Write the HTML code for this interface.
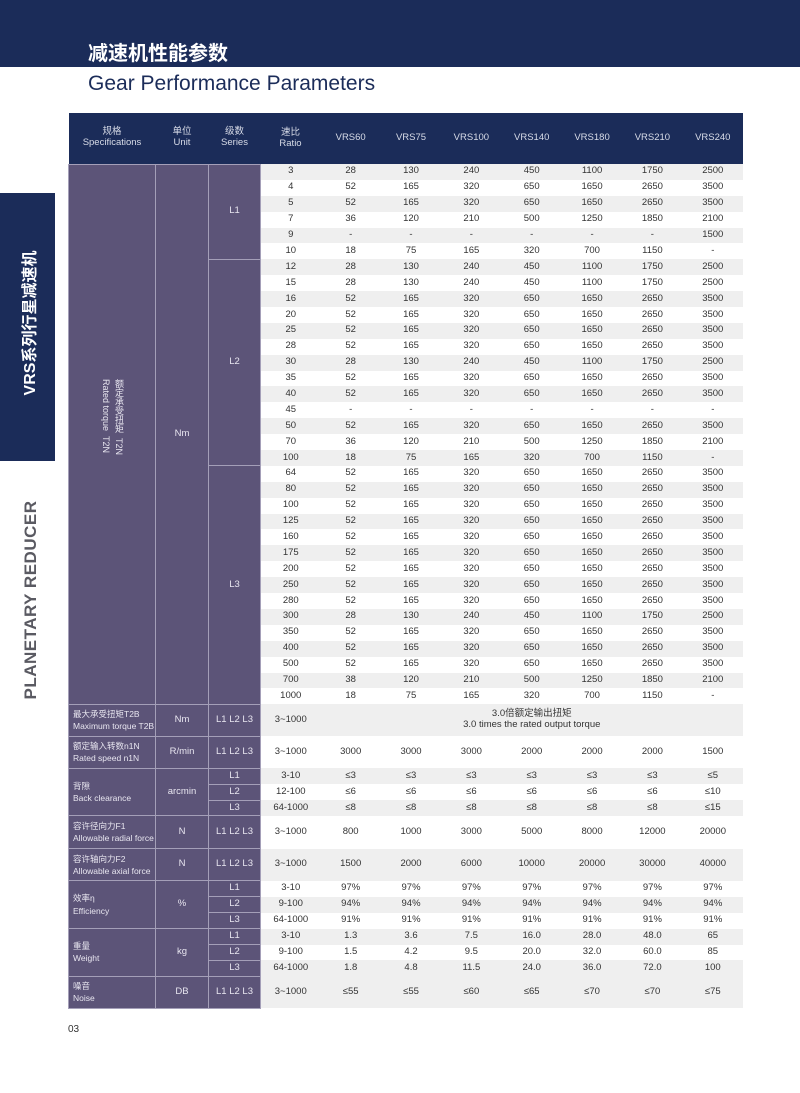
<!DOCTYPE html>
<html><head><meta charset="utf-8"><style>
*{margin:0;padding:0;box-sizing:border-box}
body{width:800px;height:1093px;background:#fff;position:relative;overflow:hidden;font-family:"Liberation Sans","Noto Sans CJK SC",sans-serif}
.top{position:absolute;left:0;top:0;width:800px;height:67px;background:#1b2c59}
.t1{position:absolute;left:88px;top:37px;color:#fff;font-size:20px;font-weight:bold}
.t2{position:absolute;left:88px;top:72px;color:#1b2c59;font-size:21px}
.side{position:absolute;left:0;top:193px;width:55px;height:268px;background:#1b2c59}
.sideT{position:absolute;left:28px;top:323px;transform:translate(-50%,-50%) rotate(-90deg);color:#fff;font-weight:bold;font-size:16px;white-space:nowrap}
.sideP{position:absolute;left:31px;top:600px;transform:translate(-50%,-50%) rotate(-90deg);color:#5a5a62;font-weight:bold;font-size:17px;white-space:nowrap;letter-spacing:0.5px}
.pg{position:absolute;left:68px;top:1024px;font-size:10px;color:#333}
table{position:absolute;left:68px;top:113px;border-collapse:collapse;table-layout:fixed;width:675px}
td,th{font-size:9.5px;text-align:center;color:#333;padding:0;font-weight:normal;line-height:1.15}
th{background:#1b2c59;color:#d8dce8;height:51px;font-size:9.5px}
.p{background:#5c5478;color:#e8e6f0;border:1px solid #a49fb8}
.r td{height:15.9px}
.g{background:#efefef}
.l{text-align:left;padding-left:4px;white-space:nowrap;font-size:8.5px;line-height:1.45}
.vt{writing-mode:vertical-rl;display:inline-block;font-size:9px;line-height:13px;text-align:left;margin-bottom:30px}
</style></head><body>
<div class="top"></div>
<div class="t1">减速机性能参数</div>
<div class="t2">Gear Performance Parameters</div>
<div class="side"></div>
<div class="sideT">VRS系列行星减速机</div>
<div class="sideP">PLANETARY REDUCER</div>
<div class="pg">03</div>
<table>
<colgroup><col style="width:87px"><col style="width:53px"><col style="width:52px"><col style="width:60px"><col><col><col><col><col><col><col></colgroup>
<tr><th>规格<br>Specifications</th><th>单位<br>Unit</th><th>级数<br>Series</th><th>速比<br>Ratio</th><th>VRS60</th><th>VRS75</th><th>VRS100</th><th>VRS140</th><th>VRS180</th><th>VRS210</th><th>VRS240</th></tr>
<tr class="r g"><td class="p" rowspan="34"><span class="vt">额定承受扭矩&nbsp;&nbsp;T2N<br>Rated torque&nbsp;&nbsp;T2N</span></td><td class="p" rowspan="34">Nm</td><td class="p" rowspan="6">L1</td><td>3</td><td>28</td><td>130</td><td>240</td><td>450</td><td>1100</td><td>1750</td><td>2500</td></tr>
<tr class="r"><td>4</td><td>52</td><td>165</td><td>320</td><td>650</td><td>1650</td><td>2650</td><td>3500</td></tr>
<tr class="r g"><td>5</td><td>52</td><td>165</td><td>320</td><td>650</td><td>1650</td><td>2650</td><td>3500</td></tr>
<tr class="r"><td>7</td><td>36</td><td>120</td><td>210</td><td>500</td><td>1250</td><td>1850</td><td>2100</td></tr>
<tr class="r g"><td>9</td><td>-</td><td>-</td><td>-</td><td>-</td><td>-</td><td>-</td><td>1500</td></tr>
<tr class="r"><td>10</td><td>18</td><td>75</td><td>165</td><td>320</td><td>700</td><td>1150</td><td>-</td></tr>
<tr class="r g"><td class="p" rowspan="13">L2</td><td>12</td><td>28</td><td>130</td><td>240</td><td>450</td><td>1100</td><td>1750</td><td>2500</td></tr>
<tr class="r"><td>15</td><td>28</td><td>130</td><td>240</td><td>450</td><td>1100</td><td>1750</td><td>2500</td></tr>
<tr class="r g"><td>16</td><td>52</td><td>165</td><td>320</td><td>650</td><td>1650</td><td>2650</td><td>3500</td></tr>
<tr class="r"><td>20</td><td>52</td><td>165</td><td>320</td><td>650</td><td>1650</td><td>2650</td><td>3500</td></tr>
<tr class="r g"><td>25</td><td>52</td><td>165</td><td>320</td><td>650</td><td>1650</td><td>2650</td><td>3500</td></tr>
<tr class="r"><td>28</td><td>52</td><td>165</td><td>320</td><td>650</td><td>1650</td><td>2650</td><td>3500</td></tr>
<tr class="r g"><td>30</td><td>28</td><td>130</td><td>240</td><td>450</td><td>1100</td><td>1750</td><td>2500</td></tr>
<tr class="r"><td>35</td><td>52</td><td>165</td><td>320</td><td>650</td><td>1650</td><td>2650</td><td>3500</td></tr>
<tr class="r g"><td>40</td><td>52</td><td>165</td><td>320</td><td>650</td><td>1650</td><td>2650</td><td>3500</td></tr>
<tr class="r"><td>45</td><td>-</td><td>-</td><td>-</td><td>-</td><td>-</td><td>-</td><td>-</td></tr>
<tr class="r g"><td>50</td><td>52</td><td>165</td><td>320</td><td>650</td><td>1650</td><td>2650</td><td>3500</td></tr>
<tr class="r"><td>70</td><td>36</td><td>120</td><td>210</td><td>500</td><td>1250</td><td>1850</td><td>2100</td></tr>
<tr class="r g"><td>100</td><td>18</td><td>75</td><td>165</td><td>320</td><td>700</td><td>1150</td><td>-</td></tr>
<tr class="r"><td class="p" rowspan="15">L3</td><td>64</td><td>52</td><td>165</td><td>320</td><td>650</td><td>1650</td><td>2650</td><td>3500</td></tr>
<tr class="r g"><td>80</td><td>52</td><td>165</td><td>320</td><td>650</td><td>1650</td><td>2650</td><td>3500</td></tr>
<tr class="r"><td>100</td><td>52</td><td>165</td><td>320</td><td>650</td><td>1650</td><td>2650</td><td>3500</td></tr>
<tr class="r g"><td>125</td><td>52</td><td>165</td><td>320</td><td>650</td><td>1650</td><td>2650</td><td>3500</td></tr>
<tr class="r"><td>160</td><td>52</td><td>165</td><td>320</td><td>650</td><td>1650</td><td>2650</td><td>3500</td></tr>
<tr class="r g"><td>175</td><td>52</td><td>165</td><td>320</td><td>650</td><td>1650</td><td>2650</td><td>3500</td></tr>
<tr class="r"><td>200</td><td>52</td><td>165</td><td>320</td><td>650</td><td>1650</td><td>2650</td><td>3500</td></tr>
<tr class="r g"><td>250</td><td>52</td><td>165</td><td>320</td><td>650</td><td>1650</td><td>2650</td><td>3500</td></tr>
<tr class="r"><td>280</td><td>52</td><td>165</td><td>320</td><td>650</td><td>1650</td><td>2650</td><td>3500</td></tr>
<tr class="r g"><td>300</td><td>28</td><td>130</td><td>240</td><td>450</td><td>1100</td><td>1750</td><td>2500</td></tr>
<tr class="r"><td>350</td><td>52</td><td>165</td><td>320</td><td>650</td><td>1650</td><td>2650</td><td>3500</td></tr>
<tr class="r g"><td>400</td><td>52</td><td>165</td><td>320</td><td>650</td><td>1650</td><td>2650</td><td>3500</td></tr>
<tr class="r"><td>500</td><td>52</td><td>165</td><td>320</td><td>650</td><td>1650</td><td>2650</td><td>3500</td></tr>
<tr class="r g"><td>700</td><td>38</td><td>120</td><td>210</td><td>500</td><td>1250</td><td>1850</td><td>2100</td></tr>
<tr class="r"><td>1000</td><td>18</td><td>75</td><td>165</td><td>320</td><td>700</td><td>1150</td><td>-</td></tr>
<tr class="g" style="height:32px"><td class="p l">最大承受扭矩T2B<br>Maximum torque T2B</td><td class="p">Nm</td><td class="p">L1 L2 L3</td><td>3~1000</td><td colspan="7">3.0倍额定输出扭矩<br>3.0 times the rated output torque</td></tr>
<tr style="height:32px"><td class="p l">额定输入转数n1N<br>Rated speed n1N</td><td class="p">R/min</td><td class="p">L1 L2 L3</td><td>3~1000</td><td>3000</td><td>3000</td><td>3000</td><td>2000</td><td>2000</td><td>2000</td><td>1500</td></tr>
<tr class="r g"><td class="p l" rowspan="3">背隙<br>Back clearance</td><td class="p" rowspan="3">arcmin</td><td class="p">L1</td><td>3-10</td><td>≤3</td><td>≤3</td><td>≤3</td><td>≤3</td><td>≤3</td><td>≤3</td><td>≤5</td></tr>
<tr class="r"><td class="p">L2</td><td>12-100</td><td>≤6</td><td>≤6</td><td>≤6</td><td>≤6</td><td>≤6</td><td>≤6</td><td>≤10</td></tr>
<tr class="r g"><td class="p">L3</td><td>64-1000</td><td>≤8</td><td>≤8</td><td>≤8</td><td>≤8</td><td>≤8</td><td>≤8</td><td>≤15</td></tr>
<tr style="height:33px"><td class="p l">容许径向力F1<br>Allowable radial force</td><td class="p">N</td><td class="p">L1 L2 L3</td><td>3~1000</td><td>800</td><td>1000</td><td>3000</td><td>5000</td><td>8000</td><td>12000</td><td>20000</td></tr>
<tr class="g" style="height:32px"><td class="p l">容许轴向力F2<br>Allowable axial force</td><td class="p">N</td><td class="p">L1 L2 L3</td><td>3~1000</td><td>1500</td><td>2000</td><td>6000</td><td>10000</td><td>20000</td><td>30000</td><td>40000</td></tr>
<tr class="r"><td class="p l" rowspan="3">效率η<br>Efficiency</td><td class="p" rowspan="3">%</td><td class="p">L1</td><td>3-10</td><td>97%</td><td>97%</td><td>97%</td><td>97%</td><td>97%</td><td>97%</td><td>97%</td></tr>
<tr class="r g"><td class="p">L2</td><td>9-100</td><td>94%</td><td>94%</td><td>94%</td><td>94%</td><td>94%</td><td>94%</td><td>94%</td></tr>
<tr class="r"><td class="p">L3</td><td>64-1000</td><td>91%</td><td>91%</td><td>91%</td><td>91%</td><td>91%</td><td>91%</td><td>91%</td></tr>
<tr class="r g"><td class="p l" rowspan="3">重量<br>Weight</td><td class="p" rowspan="3">kg</td><td class="p">L1</td><td>3-10</td><td>1.3</td><td>3.6</td><td>7.5</td><td>16.0</td><td>28.0</td><td>48.0</td><td>65</td></tr>
<tr class="r"><td class="p">L2</td><td>9-100</td><td>1.5</td><td>4.2</td><td>9.5</td><td>20.0</td><td>32.0</td><td>60.0</td><td>85</td></tr>
<tr class="r g"><td class="p">L3</td><td>64-1000</td><td>1.8</td><td>4.8</td><td>11.5</td><td>24.0</td><td>36.0</td><td>72.0</td><td>100</td></tr>
<tr class="g" style="height:32px"><td class="p l">噪音<br>Noise</td><td class="p">DB</td><td class="p">L1 L2 L3</td><td>3~1000</td><td>≤55</td><td>≤55</td><td>≤60</td><td>≤65</td><td>≤70</td><td>≤70</td><td>≤75</td></tr>
</table>
</body></html>
